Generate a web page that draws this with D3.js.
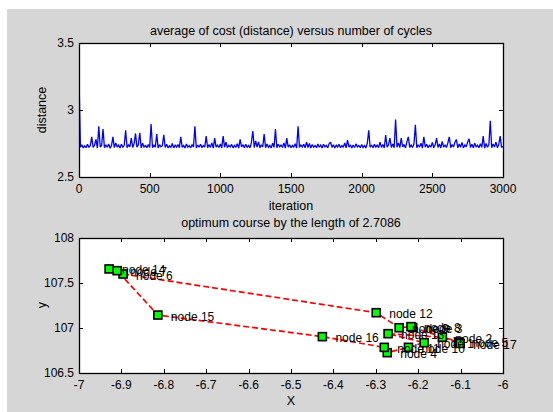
<!DOCTYPE html>
<html><head><meta charset="utf-8">
<script src="https://cdn.jsdelivr.net/npm/d3@7"></script>
<style>
body{margin:0;background:#fff}
svg text{font-family:"Liberation Sans",Arial,Helvetica,sans-serif;fill:#000}
</style>
</head><body>
<svg id="c" width="553" height="412"></svg>
<script>
// ---------- data: top chart (average cost per iteration, sampled every 10 iterations) ----------
const costStep = 10;
const costValues = [
3.25,2.722,2.740,2.717,2.733,2.719,2.745,2.721,2.736,2.800,
2.720,2.737,2.780,2.716,2.878,2.724,2.735,2.858,2.718,2.741,
2.722,2.747,2.715,2.734,2.800,2.719,2.755,2.723,2.738,2.717,
2.744,2.721,2.736,2.848,2.718,2.739,2.725,2.790,2.720,2.748,
2.825,2.722,2.740,2.830,2.717,2.752,2.724,2.735,2.719,2.743,
2.721,2.895,2.718,2.737,2.723,2.820,2.716,2.741,2.725,2.734,
2.815,2.720,2.745,2.718,2.733,2.722,2.750,2.717,2.738,2.724,
2.742,2.719,2.800,2.721,2.736,2.716,2.747,2.723,2.734,2.718,
2.740,2.725,2.878,2.717,2.739,2.722,2.744,2.719,2.735,2.724,
2.805,2.718,2.742,2.721,2.755,2.716,2.790,2.723,2.738,2.720,
2.746,2.717,2.805,2.722,2.760,2.719,2.737,2.725,2.743,2.718,
2.735,2.721,2.748,2.716,2.780,2.724,2.739,2.719,2.745,2.722,
2.736,2.717,2.758,2.843,2.720,2.770,2.723,2.762,2.718,2.740,
2.724,2.820,2.719,2.747,2.722,2.735,2.717,2.752,2.721,2.858,
2.718,2.744,2.725,2.738,2.720,2.755,2.716,2.790,2.723,2.741,
2.719,2.736,2.722,2.748,2.717,2.878,2.721,2.739,2.724,2.745,
2.718,2.760,2.720,2.750,2.716,2.742,2.723,2.735,2.719,2.746,
2.722,2.738,2.717,2.744,2.725,2.736,2.718,2.749,2.760,2.721,
2.740,2.716,2.737,2.724,2.745,2.719,2.734,2.722,2.755,2.718,
2.775,2.723,2.741,2.717,2.738,2.720,2.747,2.725,2.735,2.719,
2.743,2.721,2.736,2.716,2.752,2.848,2.722,2.739,2.718,2.745,
2.724,2.737,2.719,2.760,2.721,2.742,2.717,2.813,2.723,2.740,
2.790,2.720,2.746,2.718,2.928,2.722,2.755,2.719,2.790,2.724,
2.743,2.717,2.762,2.800,2.721,2.738,2.720,2.748,2.890,2.718,
2.741,2.723,2.752,2.716,2.800,2.722,2.744,2.719,2.736,2.725,
2.758,2.718,2.740,2.790,2.721,2.747,2.717,2.765,2.723,2.738,
2.720,2.755,2.800,2.719,2.742,2.724,2.760,2.780,2.718,2.746,
2.722,2.758,2.717,2.739,2.725,2.762,2.785,2.720,2.744,2.718,
2.753,2.723,2.737,2.719,2.748,2.721,2.805,2.716,2.750,2.722,
2.740,2.920,2.718,2.747,2.724,2.760,2.719,2.742,2.805,2.721,
2.730
];
const costXTicks = [0, 500, 1000, 1500, 2000, 2500, 3000];
const costYTicks = [2.5, 3, 3.5];
const costXDomain = [0, 3000];
const costYDomain = [2.5, 3.5];

// ---------- data: bottom chart (node positions, index = node number - 1) ----------
const nodeX = [-6.186,-6.143,-6.213,-6.273,-6.105,-6.896,-6.910,-6.217,-6.245,-6.223,-6.280,-6.299,-6.271,-6.929,-6.814,-6.426,-6.101];
const nodeY = [106.837,106.897,107.005,106.726,106.845,107.600,107.637,107.015,107.003,106.785,106.785,107.170,106.937,107.656,107.144,106.904,106.828];
const nodeNames = ["node 1","node 2","node 3","node 4","node 5","node 6","node 7","node 8","node 9","node 10","node 11","node 12","node 13","node 14","node 15","node 16","node 17"];
const tour = [6,12,9,8,3,5,17,2,13,1,10,4,11,16,15,7,14,6];
const posXTicks = [-7,-6.9,-6.8,-6.7,-6.6,-6.5,-6.4,-6.3,-6.2,-6.1,-6];
const posXLabels = ["-7","-6.9","-6.8","-6.7","-6.6","-6.5","-6.4","-6.3","-6.2","-6.1","-6"];
const posYTicks = [106.5, 107, 107.5, 108];
const posYLabels = ["106.5","107","107.5","108"];
const posXDomain = [-7, -6];
const posYDomain = [106.5, 108];

const titles = ["average of cost (distance) versus number of cycles", "optimum course by the length of 2.7086"];

// ---------- drawing ----------
const svg = d3.select("#c");
svg.append("rect").attr("x",7).attr("y",9).attr("width",546).attr("height",403).attr("fill","#d6d6d6");

const L = 79, R = 503;
const top1 = 43, bot1 = 177, top2 = 238, bot2 = 373;
const TICK = 4, FS = 12;

function axesFrame(g, t, b) {
  g.append("rect").attr("x",L).attr("y",t).attr("width",R-L).attr("height",b-t).attr("fill","#fff");
}
function axesDecor(g, x, y, xt, xl, yt, yl, t, b) {
  const k = g.append("g").attr("stroke","#000").attr("stroke-width",1).attr("fill","none");
  xt.forEach(v => {
    const px = Math.round(x(v)) + 0.5;
    k.append("line").attr("x1",px).attr("x2",px).attr("y1",b).attr("y2",b-TICK);
    k.append("line").attr("x1",px).attr("x2",px).attr("y1",t).attr("y2",t+TICK);
  });
  yt.forEach(v => {
    const py = Math.round(y(v)) + 0.5;
    k.append("line").attr("x1",L).attr("x2",L+TICK).attr("y1",py).attr("y2",py);
    k.append("line").attr("x1",R).attr("x2",R-TICK).attr("y1",py).attr("y2",py);
  });
  k.append("rect").attr("x",L+0.5).attr("y",t+0.5).attr("width",R-L).attr("height",b-t).attr("stroke-width",1.3);
  xt.forEach((v,i) => g.append("text").attr("x",x(v)).attr("y",b+12).attr("text-anchor","middle")
    .attr("dominant-baseline","central").attr("font-size",FS).text(xl[i]));
  yt.forEach((v,i) => g.append("text").attr("x",L-5).attr("y",y(v)).attr("text-anchor","end")
    .attr("dominant-baseline","central").attr("font-size",FS).text(yl[i]));
}

// top chart
const x1 = d3.scaleLinear().domain(costXDomain).range([L, R]);
const y1 = d3.scaleLinear().domain(costYDomain).range([bot1, top1]);
const g1 = svg.append("g");
axesFrame(g1, top1, bot1);
svg.append("clipPath").attr("id","cp1").append("rect").attr("x",L).attr("y",top1).attr("width",R-L).attr("height",bot1-top1);
g1.append("path").attr("clip-path","url(#cp1)")
  .attr("d", d3.line().x((d,i)=>x1(i*costStep)).y(d=>y1(d))(costValues))
  .attr("fill","none").attr("stroke","#0000ff").attr("stroke-width",1.3).attr("stroke-linejoin","miter").attr("stroke-miterlimit",2);
axesDecor(g1, x1, y1, costXTicks, costXTicks.map(String), costYTicks, costYTicks.map(String), top1, bot1);
g1.append("text").attr("x",(L+R)/2).attr("y",31).attr("text-anchor","middle").attr("dominant-baseline","central").attr("font-size",12.5).text(titles[0]);
g1.append("text").attr("x",(L+R)/2).attr("y",206).attr("text-anchor","middle").attr("dominant-baseline","central").attr("font-size",12.5).text("iteration");
g1.append("text").attr("transform","translate(42,110) rotate(-90)").attr("text-anchor","middle").attr("dominant-baseline","central").attr("font-size",12.5).text("distance");

// bottom chart
const x2 = d3.scaleLinear().domain(posXDomain).range([L, R]);
const y2 = d3.scaleLinear().domain(posYDomain).range([bot2, top2]);
const g2 = svg.append("g");
axesFrame(g2, top2, bot2);
svg.append("clipPath").attr("id","cp2").append("rect").attr("x",L).attr("y",top2).attr("width",R-L).attr("height",bot2-top2);
const tourPts = tour.map(n => [x2(nodeX[n-1]), y2(nodeY[n-1])]);
g2.append("path").attr("clip-path","url(#cp2)").attr("d", d3.line()(tourPts))
  .attr("fill","none").attr("stroke","#ff0000").attr("stroke-width",1.7).attr("stroke-dasharray","6,3");
const S = 8;
g2.selectAll("rect.m").data(nodeX.map((v,i)=>i)).enter().append("rect").attr("class","m")
  .attr("x", i => x2(nodeX[i]) - S/2).attr("y", i => y2(nodeY[i]) - S/2)
  .attr("width",S).attr("height",S).attr("fill","#00ff00").attr("stroke","#000").attr("stroke-width",1.6);
g2.selectAll("text.lbl").data(nodeX.map((v,i)=>i)).enter().append("text").attr("class","lbl")
  .attr("x", i => x2(nodeX[i]) + 13).attr("y", i => y2(nodeY[i]) + 1.5)
  .attr("dominant-baseline","central").attr("font-size",12).text(i => nodeNames[i]);
axesDecor(g2, x2, y2, posXTicks, posXLabels, posYTicks, posYLabels, top2, bot2);
g2.append("text").attr("x",(L+R)/2).attr("y",223).attr("text-anchor","middle").attr("dominant-baseline","central").attr("font-size",12.5).text(titles[1]);
g2.append("text").attr("x",(L+R)/2).attr("y",401).attr("text-anchor","middle").attr("dominant-baseline","central").attr("font-size",12.5).text("X");
g2.append("text").attr("transform","translate(42,305) rotate(-90)").attr("text-anchor","middle").attr("dominant-baseline","central").attr("font-size",12.5).text("y");
</script>
</body></html>
